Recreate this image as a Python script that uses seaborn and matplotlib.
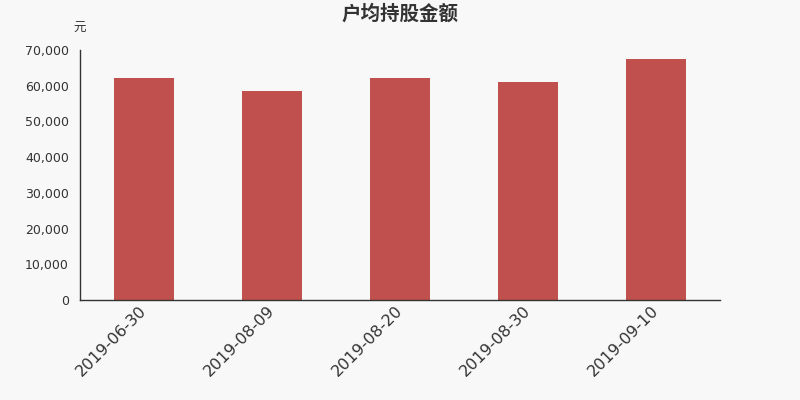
import numpy as np
import pandas as pd
import matplotlib
matplotlib.use('Agg')
import matplotlib.pyplot as plt
import matplotlib.transforms as mtransforms
import seaborn as sns
from matplotlib.ticker import FuncFormatter, FixedLocator

dates = ['2019-06-30', '2019-08-09', '2019-08-20', '2019-08-30', '2019-09-10']
amounts = [62160, 58430, 62070, 61040, 67430]

df = pd.DataFrame({'date': dates, 'amount': amounts})

sns.set_style('white')
plt.rcParams['font.family'] = ['DejaVu Sans', 'Noto Sans CJK SC']

bg = '#f8f8f8'
fig = plt.figure(figsize=(8, 4), dpi=100, facecolor=bg)
ax = fig.add_axes([0.1, 0.25, 0.8, 0.625], facecolor=bg)

sns.barplot(data=df, x='date', y='amount', color='#c0504d', saturation=1,
            width=0.47, ax=ax)
for p in ax.patches:
    p.set_edgecolor('none')

ax.set_xlim(-0.5, len(dates) - 0.5)
ax.set_ylim(0, 70000)
ax.set_yticks(np.arange(0, 70001, 10000))
ax.yaxis.set_major_formatter(FuncFormatter(lambda v, _: f'{int(v):,}'))

# tick marks between categories, labels in the middle
ax.xaxis.set_minor_locator(FixedLocator(np.arange(-0.5, len(dates), 1.0)))
ax.tick_params(axis='x', which='major', length=0, pad=3)
ax.tick_params(axis='x', which='minor', length=5, color='#333333', width=1)
ax.tick_params(axis='y', length=5, color='#333333', width=1, labelsize=9,
               labelcolor='#333333', pad=3)
ax.set_xticks(range(len(dates)))
ax.set_xticklabels(dates, rotation=45, ha='right', va='top',
                   rotation_mode='anchor', fontsize=11.5, color='#333333')
shift = mtransforms.ScaledTranslation(-5 / 100, 1 / 100, fig.dpi_scale_trans)
for lbl in ax.get_xticklabels():
    lbl.set_transform(lbl.get_transform() + shift)

for s in ['top', 'right']:
    ax.spines[s].set_visible(False)
for s in ['left', 'bottom']:
    ax.spines[s].set_color('#333333')
    ax.spines[s].set_linewidth(1)

ax.set_xlabel('')
ax.set_ylabel('')
cjk = ['Noto Sans CJK SC', 'DejaVu Sans']
fig.text(0.1, 0.928, '元', ha='center', va='center', fontsize=9,
         color='#333333', family=cjk)
fig.text(0.5, 0.966, '户均持股金额', ha='center', va='center', fontsize=14,
         fontweight='bold', color='#333333', family=cjk)

fig.savefig('out.png', dpi=100, facecolor=bg)
